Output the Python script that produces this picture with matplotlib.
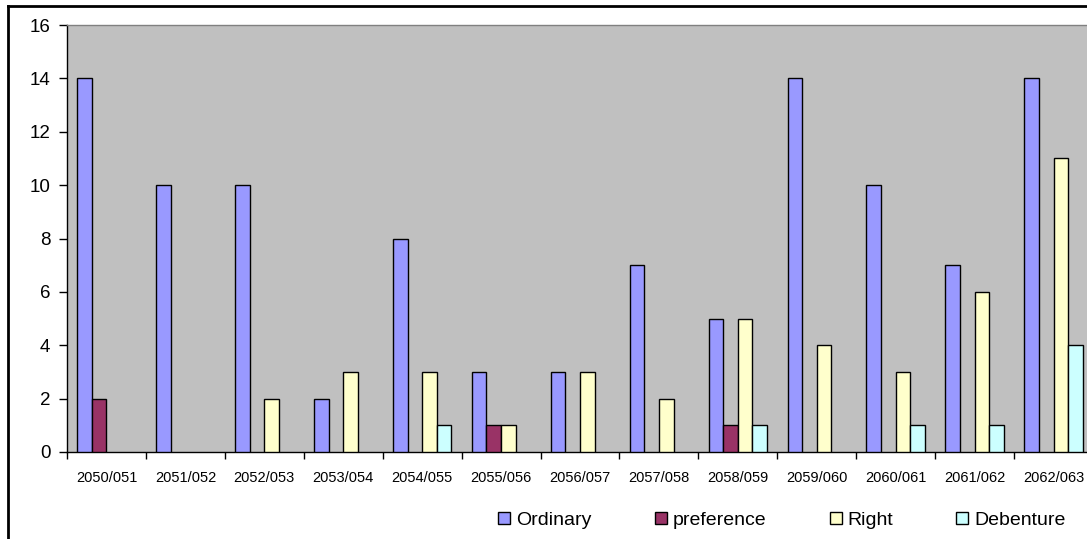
import numpy as np
import matplotlib.pyplot as plt
from matplotlib.lines import Line2D

plt.rcParams['font.family'] = ['Liberation Sans', 'DejaVu Sans']

years = ["2050/051", "2051/052", "2052/053", "2053/054", "2054/055", "2055/056",
         "2056/057", "2057/058", "2058/059", "2059/060", "2060/061", "2061/062",
         "2062/063"]
ordinary = [14, 10, 10, 2, 8, 3, 3, 7, 5, 14, 10, 7, 14]
preference = [2, 0, 0, 0, 0, 1, 0, 0, 1, 0, 0, 0, 0]
right = [0, 0, 2, 3, 3, 1, 3, 2, 5, 4, 3, 6, 11]
debenture = [0, 0, 0, 0, 1, 0, 0, 0, 1, 0, 1, 1, 4]

series = [("Ordinary", ordinary, "#9999FF"),
          ("preference", preference, "#993366"),
          ("Right", right, "#FFFFCC"),
          ("Debenture", debenture, "#CCFFFF")]

W, H = 1087, 539
fig = plt.figure(figsize=(W / 100, H / 100), dpi=100)
# plot area runs a little past the right edge, as in the reference
ax = fig.add_axes([67 / W, 1 - 452 / H, 1026 / W, 427 / H])
ax.set_facecolor("#C0C0C0")

x = np.arange(len(years))
bw = 0.185
for i, (name, vals, col) in enumerate(series):
    v = np.array(vals, dtype=float)
    mask = v > 0
    ax.bar(x[mask] + (i - 1.5) * bw, v[mask], width=bw, color=col,
           edgecolor="black", linewidth=1.0, zorder=3)

ax.set_xlim(-0.5, len(years) - 0.5)
ax.set_ylim(0, 16)
ax.set_yticks(range(0, 17, 2))
ax.tick_params(axis="y", labelsize=13.5, length=6, width=1, direction="out", pad=6)
ax.set_xticks(x)
ax.set_xticklabels(years, fontsize=10.5)
ax.tick_params(axis="x", length=0, pad=14)
ax.set_xticks(np.arange(len(years) + 1) - 0.5, minor=True)
ax.tick_params(axis="x", which="minor", length=5, width=1, direction="out")

for s in ["right", "top"]:
    ax.spines[s].set_color("#808080")
    ax.spines[s].set_linewidth(1)
ax.spines["left"].set_linewidth(1)
ax.spines["bottom"].set_linewidth(1)

handles = [Line2D([], [], marker="s", linestyle="", markersize=8,
                  markerfacecolor=col, markeredgecolor="black", markeredgewidth=1)
           for _, _, col in series]
fig.legend(handles, [s[0] for s in series], loc="center", ncol=4,
           bbox_to_anchor=(782 / W, 1 - 520 / H), frameon=False, fontsize=14,
           handlelength=0.6, handletextpad=0.3, columnspacing=3.27,
           borderpad=0)

# outer chart border (only top and left visible)
fig.add_artist(Line2D([8 / W, 1], [1 - 6 / H, 1 - 6 / H], color="black",
                      linewidth=2, transform=fig.transFigure))
fig.add_artist(Line2D([8 / W, 8 / W], [0, 1 - 6 / H], color="black",
                      linewidth=2, transform=fig.transFigure))

fig.savefig("out.png", dpi=100)
